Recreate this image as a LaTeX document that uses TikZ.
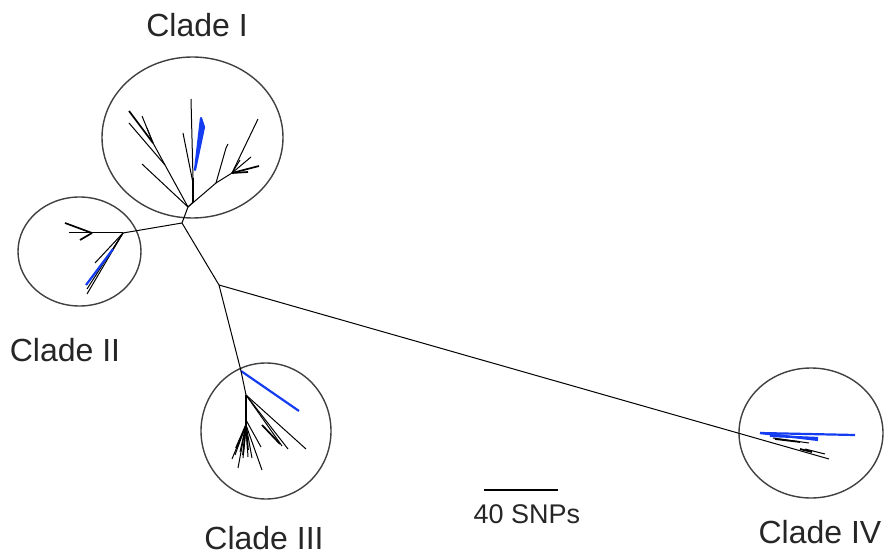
\documentclass[tikz,border=0pt]{standalone}
\usepackage{fontspec}
\setmainfont{Liberation Sans}
\usetikzlibrary{shapes.geometric}
\definecolor{treeblue}{RGB}{20,60,240}
\tikzset{
  clade/.style={draw=black!75,line width=1.4pt,ellipse,inner sep=0pt,minimum width=2*#1},
  lab/.style={font=\fontsize{32}{34}\selectfont,text=black!85,inner sep=0pt},
  scalelab/.style={font=\fontsize{27}{29}\selectfont,text=black!85,inner sep=0pt},
  br/.style={draw=black,line width=1pt,line join=round},
  thick br/.style={draw=black,line width=1.7pt,line join=round},
  blue br/.style={draw=treeblue,line width=2.2pt,line join=round},
}
\begin{document}
\begin{tikzpicture}[x=1pt,y=-1pt]
\useasboundingbox (0,0) rectangle (884,556);
% clade circles
\node[clade=90.5pt,minimum height=161pt] (c1) at (192.5,137.5) {};
\node[clade=61.5pt,minimum height=109pt] (c2) at (79.5,251.5) {};
\node[clade=65pt,minimum height=136pt] (c3) at (266,431) {};
\node[clade=72pt,minimum height=130pt] (c4) at (811,433) {};
% labels
\node[lab] (l1) at (197,25) {Clade I};
\node[lab] (l2) at (65,350) {Clade II};
\node[lab] (l3) at (264,538) {Clade III};
\node[lab] (l4) at (820,532) {Clade IV};
\node[scalelab] (ls) at (527,514) {40 SNPs};
\coordinate (sa) at (484,490); \coordinate (sb) at (558,490);
\draw[line width=1.2pt] (sa) -- (sb);
% backbone
\coordinate (r) at (182,223);
\coordinate (m) at (219,285);
\coordinate (t3) at (241,371);
\coordinate (e4) at (829,459);
\draw[br] (r) -- (m) -- (t3);
\draw[br] (m) -- (e4);
% clade I
\coordinate (a) at (188,207);
\coordinate (a1) at (165,165);
\coordinate (a2) at (153,143);
\coordinate (u) at (193,202);
\coordinate (u1) at (193,178);
\coordinate (v) at (216,183);
\coordinate (w) at (232,173);
\draw[br] (r) -- (a);
\draw[br] (a) -- (a1) -- (a2);
\draw[thick br] (a2) -- (129,111);
\draw[br] (a2) -- (142,116);
\draw[br] (a2) -- (147,128);
\draw[br] (a1) -- (129,123);
\draw[br] (a) -- (142,164);
\draw[br] (a) -- (u);
\draw[thick br] (u) -- (u1);
\draw[br] (u1) -- (191,99);
\draw[br] (193,183) -- (183,133);
\draw[blue br,fill=treeblue] (195,170) -- (201,118) -- (204,127) -- cycle;
\draw[br] (a) -- (v) -- (w) -- (258,119);
\draw[br] (v) -- (226,148) -- (228,144);
\draw[br] (w) -- (251,157);
\draw[thick br] (w) -- (259,166);
\draw[thick br] (w) -- (248,172);
\draw[br] (w) -- (240,160);
% clade II
\coordinate (b) at (123,233);
\coordinate (b1) at (92,233);
\draw[br] (r) -- (b);
\draw[br] (b) -- (b1);
\draw[thick br] (b1) -- (65,223);
\draw[br] (b1) -- (69,233);
\draw[thick br] (b1) -- (80,240);
\draw[br] (b) -- (95,263);
\draw[br] (b) -- (87,294);
\draw[br] (b) -- (87,289);
\draw[br] (b) -- (113,249);
\draw[blue br] (113,249) -- (86,285);
% clade III
\coordinate (c) at (246,395);
\coordinate (d) at (246,425);
\draw[blue br] (t3) -- (299,411);
\draw[br] (t3) -- (c);
\draw[thick br] (c) -- (d);
\draw[br] (c) -- (306,449);
\draw[br] (c) -- (288,449);
\draw[br] (c) -- (282,446);
\draw[thick br] (262,425) -- (280,444);
\draw[br] (246,420) -- (261,447);
\foreach \px/\py in {232/459,235/455,238/468,240/452,243/458,248/457,252/458,262/470}
  \draw[br] (d) -- (\px,\py);
\draw[thick br] (d) -- (236,448);
\draw[thick br] (d) -- (243,455);
\draw[thick br] (d) -- (248,450);
% clade IV
\coordinate (f) at (760,433);
\draw[blue br] (f) -- (855,435);
\draw[blue br] (f) -- (818,440);
\draw[blue br] (770,436) -- (818,438);
\draw[br] (773,438) -- (809,443);
\draw[thick br] (775,439) -- (800,442);
\draw[thick br] (800,449) -- (812,452);
\draw[br] (805,449) -- (825,454);
\end{tikzpicture}
\end{document}
